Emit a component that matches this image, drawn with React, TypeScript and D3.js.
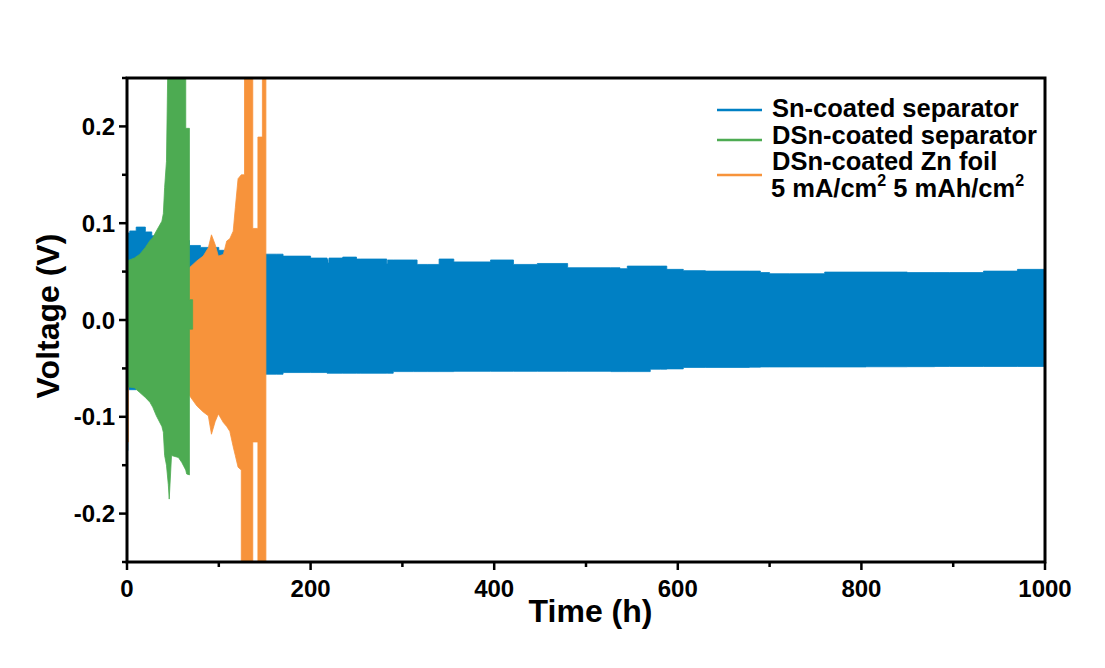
import React from "react";
import * as d3 from "d3";

// ---- Data (envelopes of the dense voltage oscillation) ----
const blueTime = [0, 1, 1, 3, 10, 20, 27, 40, 68, 80, 100, 120, 145, 163, 170, 200, 218, 219, 220, 235, 250, 254, 283, 284, 290, 312, 316, 327, 340, 356, 396, 421, 447, 480, 527, 537, 545, 570, 581, 588, 606, 630, 678, 690, 700, 722, 760, 805, 850, 880, 896, 933, 970, 1000];
const blueUpper = [0.09, 0.09, 0.09, 0.092, 0.096, 0.091, 0.087, 0.082, 0.077, 0.075, 0.072, 0.071, 0.068, 0.068, 0.066, 0.064, 0.0626, 0.059, 0.064, 0.065, 0.063, 0.063, 0.058, 0.062, 0.062, 0.062, 0.0574, 0.0574, 0.063, 0.06, 0.062, 0.0574, 0.0584, 0.054, 0.054, 0.053, 0.0557, 0.0557, 0.0557, 0.0523, 0.051, 0.0505, 0.0505, 0.049, 0.0478, 0.0478, 0.0495, 0.0495, 0.049, 0.049, 0.049, 0.0505, 0.0523, 0.0523];
const blueLower = [-0.135, -0.135, -0.072, -0.072, -0.07, -0.068, -0.066, -0.065, -0.064, -0.062, -0.06, -0.058, -0.056, -0.056, -0.0543, -0.0543, -0.055, -0.055, -0.055, -0.055, -0.055, -0.055, -0.055, -0.055, -0.0533, -0.0533, -0.0533, -0.0533, -0.0533, -0.053, -0.053, -0.053, -0.053, -0.053, -0.0533, -0.0533, -0.0533, -0.0508, -0.0508, -0.0505, -0.049, -0.049, -0.0487, -0.0485, -0.0485, -0.0485, -0.0485, -0.0483, -0.0482, -0.048, -0.048, -0.048, -0.048, -0.048];

const greenTime = [0, 8, 14, 20, 25, 28, 32, 38, 39.6, 41, 43, 45, 46, 48.5, 56, 59.6, 64, 64, 65, 68, 68, 71.5];
const greenUpper = [0.061, 0.064, 0.068, 0.075, 0.082, 0.085, 0.092, 0.102, 0.11, 0.137, 0.164, 0.3, 0.3, 0.3, 0.3, 0.3, 0.3, 0.198, 0.198, 0.198, 0.021, 0.021];
const greenLower = [-0.069, -0.07, -0.075, -0.08, -0.085, -0.09, -0.099, -0.11, -0.116, -0.14, -0.15, -0.17, -0.185, -0.14, -0.142, -0.147, -0.155, -0.155, -0.159, -0.16, -0.0095, -0.0095];

const orangeTime = [0, 1.5, 1.5, 68, 76, 83, 88.6, 92, 96, 99.5, 105, 108.6, 112, 115.7, 118, 121, 124.5, 124.5, 128, 128, 137, 137, 142.6, 142.6, 147.5, 147.5, 151.3];
const orangeUpper = [0.05, 0.05, 0.05, 0.054, 0.061, 0.066, 0.0746, 0.088, 0.078, 0.066, 0.0677, 0.0815, 0.084, 0.0918, 0.116, 0.146, 0.15, 0.15, 0.15, 0.3, 0.3, 0.0946, 0.0946, 0.189, 0.189, 0.3, 0.3];
const orangeLower = [-0.126, -0.126, -0.065, -0.078, -0.0887, -0.095, -0.099, -0.118, -0.105, -0.097, -0.106, -0.11, -0.115, -0.131, -0.14, -0.152, -0.155, -0.3, -0.3, -0.3, -0.3, -0.126, -0.126, -0.3, -0.3, -0.3, -0.3];

const seriesNames = ["Sn-coated separator", "DSn-coated separator", "DSn-coated Zn foil"];
const seriesColors = ["#0080c4", "#4dab52", "#f7933b"];

const xTicksMajor = [0, 200, 400, 600, 800, 1000];
const xTicksMinor = [100, 300, 500, 700, 900];
const yTicksMajor = [-0.2, -0.1, 0, 0.1, 0.2];
const yTicksMinor = [-0.25, -0.15, -0.05, 0.05, 0.15, 0.25];
const yTickLabels = ["-0.2", "-0.1", "0.0", "0.1", "0.2"];

const FONT = "'Liberation Sans', Arial, Helvetica, sans-serif";

type Row = { t: number; u: number; l: number };

export default function App() {
  const left = 127, right = 1045, top = 78, bottom = 562;
  const x = d3.scaleLinear().domain([0, 1000]).range([left, right]);
  const y = d3.scaleLinear().domain([-0.25, 0.25]).range([bottom, top]);

  const mk = (t: number[], u: number[], l: number[], curve: d3.CurveFactory) => {
    const rows: Row[] = t.map((tt, i) => ({ t: tt, u: u[i], l: l[i] }));
    return d3
      .area<Row>()
      .curve(curve)
      .x((d) => x(d.t))
      .y0((d) => y(d.l))
      .y1((d) => y(d.u))(rows) as string;
  };

  const areas = [
    { d: mk(blueTime, blueUpper, blueLower, d3.curveStepAfter), c: seriesColors[0] },
    { d: mk(orangeTime, orangeUpper, orangeLower, d3.curveLinear), c: seriesColors[2] },
    { d: mk(greenTime, greenUpper, greenLower, d3.curveLinear), c: seriesColors[1] },
  ];

  const legendX1 = 717, legendX2 = 762, textX = 772;
  const legendLineY = [110, 140, 175];
  const legendTextY = [116.5, 143.5, 170];

  return (
    <svg
      width={1105}
      height={668}
      style={{ position: "absolute", left: 0, top: 0, background: "#fff" }}
      fontFamily={FONT}
      fontWeight="bold"
    >
      <defs>
        <clipPath id="plotClip">
          <rect x={left} y={top} width={right - left - 1} height={bottom - top} />
        </clipPath>
      </defs>
      <rect x={0} y={0} width={1105} height={668} fill="#fff" />
      <g clipPath="url(#plotClip)">
        {areas.map((a, i) => (
          <path key={i} d={a.d} fill={a.c} stroke={a.c} strokeWidth={0.8} />
        ))}
        {/* legend */}
        {seriesNames.map((n, i) => (
          <g key={n}>
            <line x1={legendX1} x2={legendX2} y1={legendLineY[i]} y2={legendLineY[i]} stroke={seriesColors[i]} strokeWidth={2.5} />
            <text x={textX} y={legendTextY[i]} fontSize={25.5} fill="#000">
              {n}
            </text>
          </g>
        ))}
        <text x={textX - 1} y={197} fontSize={25.5} fill="#000">
          5 mA/cm
          <tspan fontSize={16} dy={-11}>2</tspan>
          <tspan dy={11}> 5 mAh/cm</tspan>
          <tspan fontSize={16} dy={-11}>2</tspan>
        </text>
      </g>

      {/* frame */}
      <rect x={left} y={top} width={right - left} height={bottom - top} fill="none" stroke="#000" strokeWidth={3} />

      {/* x ticks */}
      {xTicksMajor.map((t) => (
        <g key={"xm" + t}>
          <line x1={x(t)} x2={x(t)} y1={bottom} y2={bottom + 8} stroke="#000" strokeWidth={2.5} />
          <text x={x(t)} y={596.5} fontSize={24} textAnchor="middle" fill="#000">
            {t}
          </text>
        </g>
      ))}
      {xTicksMinor.map((t) => (
        <line key={"xn" + t} x1={x(t)} x2={x(t)} y1={bottom} y2={bottom + 5} stroke="#000" strokeWidth={2.5} />
      ))}

      {/* y ticks */}
      {yTicksMajor.map((v, i) => (
        <g key={"ym" + v}>
          <line x1={left - 8} x2={left} y1={y(v)} y2={y(v)} stroke="#000" strokeWidth={2.5} />
          <text x={115} y={y(v) + 8.6} fontSize={24} textAnchor="end" fill="#000">
            {yTickLabels[i]}
          </text>
        </g>
      ))}
      {yTicksMinor.map((v) => (
        <line key={"yn" + v} x1={left - 5} x2={left} y1={y(v)} y2={y(v)} stroke="#000" strokeWidth={2.5} />
      ))}

      {/* axis titles */}
      <text x={590.5} y={622} fontSize={32} textAnchor="middle" fill="#000">
        Time (h)
      </text>
      <text transform="translate(59,316) rotate(-90)" fontSize={32} textAnchor="middle" fill="#000">
        Voltage (V)
      </text>
    </svg>
  );
}
